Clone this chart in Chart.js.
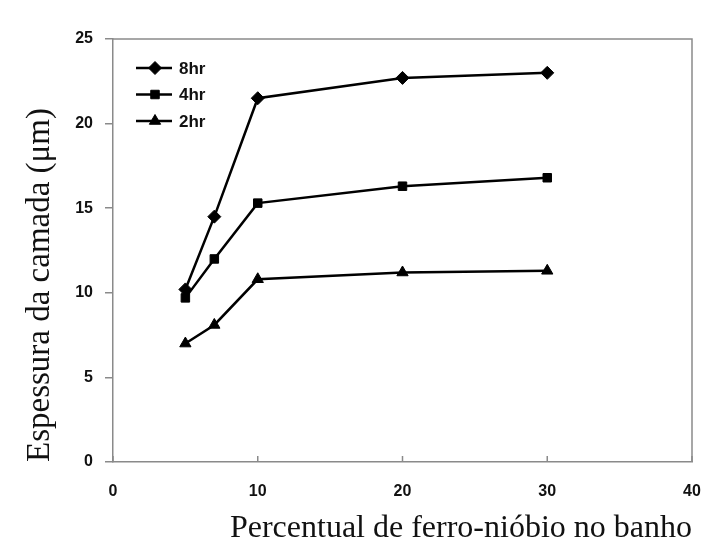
<!DOCTYPE html>
<html>
<head>
<meta charset="utf-8">
<script src="https://cdn.jsdelivr.net/npm/chart.js@4"></script>
<style>
  html, body { margin: 0; padding: 0; background: #fff; }
  #wrap { width: 707px; height: 547px; position: relative; }
</style>
</head>
<body>
<div id="wrap"><canvas id="chart" width="707" height="547"></canvas></div>
<script>
// percent of ferro-niobium in the bath
const percent = [5, 7, 10, 20, 30];
// layer thickness (um) per immersion time
const thick8hr = [10.2, 14.5, 21.5, 22.7, 23.0];
const thick4hr = [9.7, 12.0, 15.3, 16.3, 16.8];
const thick2hr = [7.0, 8.1, 10.8, 11.2, 11.3];
const seriesNames = ["8hr", "4hr", "2hr"];
const xTicks = [0, 10, 20, 30, 40];
const yTicks = [0, 5, 10, 15, 20, 25];

const axisGray = "#8a8a8a";
const tickFont = { family: "'Liberation Sans', Arial, sans-serif", size: 16, weight: "bold" };

function toPoints(ys) {
  return percent.map((x, i) => ({ x: x, y: ys[i] }));
}

function series(label, ys, style, radius) {
  return {
    label: label,
    data: toPoints(ys),
    borderColor: "#000",
    backgroundColor: "#000",
    borderWidth: 2.5,
    pointStyle: style,
    pointRadius: radius,
    pointBorderWidth: 1,
    pointBackgroundColor: "#000",
    pointBorderColor: "#000",
    tension: 0,
  };
}

// box around plot, inward x ticks and line+marker legend
const framePlugin = {
  id: "frame",
  afterDraw(chart) {
    const { ctx, chartArea: a, scales } = chart;
    ctx.save();
    ctx.strokeStyle = axisGray;
    ctx.lineWidth = 1.5;
    ctx.beginPath();
    ctx.moveTo(a.left, a.top);
    ctx.lineTo(a.right, a.top);
    ctx.lineTo(a.right, a.bottom);
    ctx.stroke();

    // short ticks pointing up into the plot
    scales.x.ticks.forEach(t => {
      const px = scales.x.getPixelForValue(t.value);
      ctx.beginPath();
      ctx.moveTo(px, a.bottom);
      ctx.lineTo(px, a.bottom - 6);
      ctx.stroke();
    });

    // legend
    const lx = a.left + 23, ly = a.top + 29, gap = 26.5;
    chart.data.datasets.forEach((ds, i) => {
      const y = ly + i * gap;
      ctx.strokeStyle = "#000";
      ctx.lineWidth = 2.5;
      ctx.beginPath();
      ctx.moveTo(lx, y);
      ctx.lineTo(lx + 36, y);
      ctx.stroke();
      ctx.fillStyle = "#000";
      ctx.lineWidth = 1;
      Chart.helpers.drawPoint(ctx, {
        pointStyle: ds.pointStyle,
        radius: ds.pointRadius,
        rotation: 0,
        borderWidth: 1,
      }, lx + 19, y);
      ctx.fillStyle = "#111";
      ctx.font = "bold 17px 'Liberation Sans', Arial, sans-serif";
      ctx.textBaseline = "middle";
      ctx.textAlign = "left";
      ctx.fillText(ds.label, lx + 43, y + 1);
    });
    ctx.restore();
  }
};

new Chart(document.getElementById("chart"), {
  type: "line",
  data: {
    datasets: [
      series(seriesNames[0], thick8hr, "rectRot", 6.5),
      series(seriesNames[1], thick4hr, "rect", 6),
      series(seriesNames[2], thick2hr, "triangle", 6.5),
    ],
  },
  options: {
    responsive: false,
    animation: false,
    layout: { padding: { left: 0, right: 15, top: 39, bottom: 0 } },
    plugins: { legend: { display: false }, tooltip: { enabled: false } },
    scales: {
      x: {
        type: "linear",
        min: 0,
        max: 40,
        afterBuildTicks(scale) { scale.ticks = xTicks.map(v => ({ value: v })); },
        afterFit(scale) {
          scale.height = 85;
          scale.paddingLeft = 0;
          scale.paddingRight = 0;
        },
        grid: { display: true, drawOnChartArea: false, drawTicks: false },
        border: { display: true, color: axisGray, width: 1.5 },
        ticks: { color: "#111", font: tickFont, padding: 20, maxRotation: 0 },
        title: {
          display: true,
          text: "Percentual de ferro-nióbio no banho",
          align: "end",
          color: "#111",
          font: { family: "'Liberation Serif', 'Times New Roman', serif", size: 32, lineHeight: 1 },
          padding: { top: 0, bottom: 2 },
        },
      },
      y: {
        type: "linear",
        min: 0,
        max: 25,
        afterBuildTicks(scale) { scale.ticks = yTicks.map(v => ({ value: v })); },
        afterFit(scale) { scale.width = 113; },
        grid: { display: true, drawOnChartArea: false, drawTicks: true, tickLength: 8, color: axisGray, lineWidth: 1.5 },
        border: { display: true, color: axisGray, width: 1.5 },
        ticks: { color: "#111", font: tickFont, padding: 12 },
        title: {
          display: true,
          text: "Espessura da camada (μm)",
          align: "start",
          color: "#111",
          font: { family: "'Liberation Serif', 'Times New Roman', serif", size: 33, lineHeight: 1 },
          padding: { top: 24, bottom: 0 },
        },
      },
    },
  },
  plugins: [framePlugin],
});
</script>
</body>
</html>
